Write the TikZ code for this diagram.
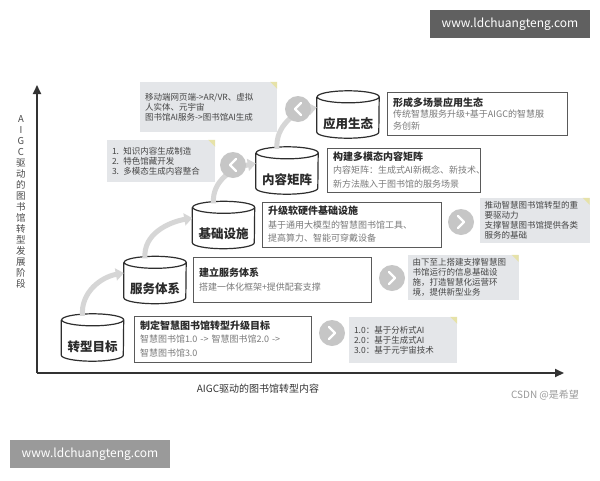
\documentclass[tikz,border=0pt]{standalone}
\usepackage{fontspec}
\setmainfont{Noto Sans CJK SC}
\usetikzlibrary{arrows.meta}
\definecolor{axisc}{HTML}{333333}
\definecolor{ylabc}{HTML}{4A4A4A}
\definecolor{cylc}{HTML}{2E2E2E}
\definecolor{boxc}{HTML}{5A5A5A}
\definecolor{bodyc}{HTML}{7A7A7A}
\definecolor{titlec}{HTML}{2A2A2A}
\definecolor{calfill}{HTML}{E4E6E9}
\definecolor{calfold}{HTML}{E6E2A8}
\definecolor{caltext}{HTML}{454545}
\definecolor{circfill}{HTML}{C6C6C6}
\definecolor{arrowc}{HTML}{D6D6D6}
\definecolor{wmdark}{HTML}{606060}
\definecolor{wmlight}{HTML}{9A9A9A}
\definecolor{csdnc}{HTML}{9A9A9A}
\newcommand\mycyl[4]{%
  \node[cylbox] (#1) at (#2,#3) {};
  \filldraw[cylline] ([yshift=-6pt]#1.north west) -- ([yshift=6pt]#1.south west)
    arc[start angle=180,end angle=360,x radius=31pt,y radius=6pt]
    -- ([yshift=-6pt]#1.north east)
    arc[start angle=0,end angle=360,x radius=31pt,y radius=6pt];
  \node[cyltext] (#1t) at ([yshift=-9pt]#1.center) {#4};
}
\newcommand\mychev[2]{% name, direction (1 = right, -1 = left)
  \draw[chev] ([xshift=-#2*3pt,yshift=6pt]#1.center) -- ([xshift=#2*3pt]#1.center) -- ([xshift=-#2*3pt,yshift=-6pt]#1.center);
}
\newcommand\myfold[1]{%
  \fill[calfold] ([xshift=-7pt]#1.north east) -- (#1.north east) -- ([yshift=-7pt]#1.north east) -- cycle;
}
\begin{document}
\begin{tikzpicture}[x=1pt,y=-1pt,
  cylbox/.style={minimum width=62pt,minimum height=47pt,inner sep=0pt},
  cylline/.style={draw=cylc,line width=1.2pt,fill=white},
  cyltext/.style={font=\bfseries\fontsize{12.5}{14}\selectfont,text=titlec,inner sep=0pt},
  tbox/.style={draw=boxc,line width=0.9pt,fill=white,inner xsep=6pt,inner ysep=2pt,align=left,
    font=\fontsize{9}{13.5}\selectfont,text=bodyc},
  callout/.style={fill=calfill,inner xsep=5pt,inner ysep=2pt,align=left,
    font=\fontsize{8.5}{10}\selectfont,text=caltext},
  circ/.style={circle,fill=circfill,minimum size=26pt,inner sep=0pt},
  chev/.style={draw=white,line width=2.2pt,line cap=round,line join=round},
  axis/.style={draw=axisc,line width=2pt,-{Triangle[length=9pt,width=8pt]}},
  growarrow/.style={draw=arrowc,line width=5pt,-{Triangle[length=8pt,width=12pt]}},
  wm/.style={text=white,font=\fontsize{12}{14}\selectfont,minimum width=160pt,minimum height=28pt,inner sep=0pt}
]
\useasboundingbox[fill=white] (0,0) rectangle (600,480);

% watermarks
\node[wm,fill=wmdark] (wm1) at (510,24) {www.ldchuangteng.com};
\node[wm,fill=wmlight] (wm2) at (90,454) {www.ldchuangteng.com};

% axes
\coordinate (o) at (37,373);
\coordinate (ytop) at (37,85);
\coordinate (xend) at (564,373);
\draw[axis] (o) -- (ytop);
\draw[axis] (o) -- (xend);
\node[font=\fontsize{9.5}{11}\selectfont,text=ylabc,align=center,inner sep=0pt] (ylab) at (21,201.5)
  {A\\I\\G\\C\\驱\\动\\的\\图\\书\\馆\\转\\型\\发\\展\\阶\\段};
\node[font=\fontsize{10}{12}\selectfont,text=axisc] (xlab) at (258,389) {AIGC驱动的图书馆转型内容};
\node[font=\fontsize{10}{12}\selectfont,text=csdnc] (csdn) at (545,395) {CSDN @是希望};

% cylinders
\mycyl{c1}{92.5}{337.5}{转型目标}
\mycyl{c2}{155}{280}{服务体系}
\mycyl{c3}{223.5}{225}{基础设施}
\mycyl{c4}{287}{170.5}{内容矩阵}
\mycyl{c5}{348}{114.5}{应用生态}

% growth arrows
\draw[growarrow] ([xshift=-10pt,yshift=-2pt]c1.north) to[out=95,in=190] ([yshift=7pt]c2.west);
\draw[growarrow] ([xshift=-10pt,yshift=-2pt]c2.north) to[out=95,in=190] ([yshift=7pt]c3.west);
\draw[growarrow] ([xshift=-10pt,yshift=-2pt]c3.north) to[out=95,in=190] ([yshift=7pt]c4.west);
\draw[growarrow] ([xshift=-10pt,yshift=-2pt]c4.north) to[out=95,in=190] ([yshift=7pt]c5.west);

% text boxes
\node[tbox,text width=165pt,minimum height=46pt] (b1) at (222.5,339)
  {{\bfseries\fontsize{10}{13.5}\selectfont\color{titlec}制定智慧图书馆转型升级目标}\\智慧图书馆1.0 -> 智慧图书馆2.0 ->\\智慧图书馆3.0};
\node[tbox,text width=166pt,minimum height=45pt] (b2) at (282,279.5)
  {{\bfseries\fontsize{10}{16}\selectfont\color{titlec}建立服务体系}\\搭建一体化框架+提供配套支撑};
\node[tbox,text width=167pt,minimum height=45pt] (b3) at (351.5,224.5)
  {{\bfseries\fontsize{10}{15}\selectfont\color{titlec}升级软硬件基础设施}\\基于通用大模型的智慧图书馆工具、\\提高算力、智能可穿戴设备};
\node[tbox,text width=141pt,minimum height=44pt] (b4) at (403.5,170)
  {{\bfseries\fontsize{10}{15}\selectfont\color{titlec}构建多模态内容矩阵}\\内容矩阵：生成式AI新概念、新技术、\\新方法融入于图书馆的服务场景};
\node[tbox,text width=168pt,minimum height=43pt,font=\fontsize{9}{11.5}\selectfont] (b5) at (477,113.5)
  {{\bfseries\fontsize{10}{13}\selectfont\color{titlec}形成多场景应用生态}\\传统智慧服务升级+基于AIGC的智慧服\\务创新};

% callouts
\node[callout,text width=127pt,minimum height=50pt] (ka) at (208.5,107) {移动端网页端->AR/VR、虚拟\\人实体、元宇宙\\图书馆AI服务->图书馆AI生成};
\myfold{ka}
\node[callout,text width=98pt,minimum height=42pt] (kb) at (161,161) {1. 知识内容生成制造\\2. 特色馆藏开发\\3. 多模态生成内容整合};
\myfold{kb}
\node[callout,text width=100pt,minimum height=45pt] (kc) at (534.5,220.5) {推动智慧图书馆转型的重\\要驱动力\\支撑智慧图书馆提供各类\\服务的基础};
\myfold{kc}
\node[callout,text width=101pt,minimum height=45pt] (kd) at (463,277.5) {由下至上搭建支撑智慧图\\书馆运行的信息基础设\\施，打造智慧化运营环\\境，提供新型业务};
\myfold{kd}
\node[callout,text width=98pt,minimum height=46pt] (ke) at (403,340) {1.0：基于分析式AI\\2.0：基于生成式AI\\3.0：基于元宇宙技术};
\myfold{ke}

% circle markers
\node[circ] (pa) at (298,109) {};
\mychev{pa}{-1}
\node[circ] (pb) at (233,165) {};
\mychev{pb}{-1}
\node[circ] (pc) at (461,222) {};
\mychev{pc}{1}
\node[circ] (pd) at (392,278) {};
\mychev{pd}{1}
\node[circ] (pe) at (332,333) {};
\mychev{pe}{1}
\end{tikzpicture}
\end{document}
